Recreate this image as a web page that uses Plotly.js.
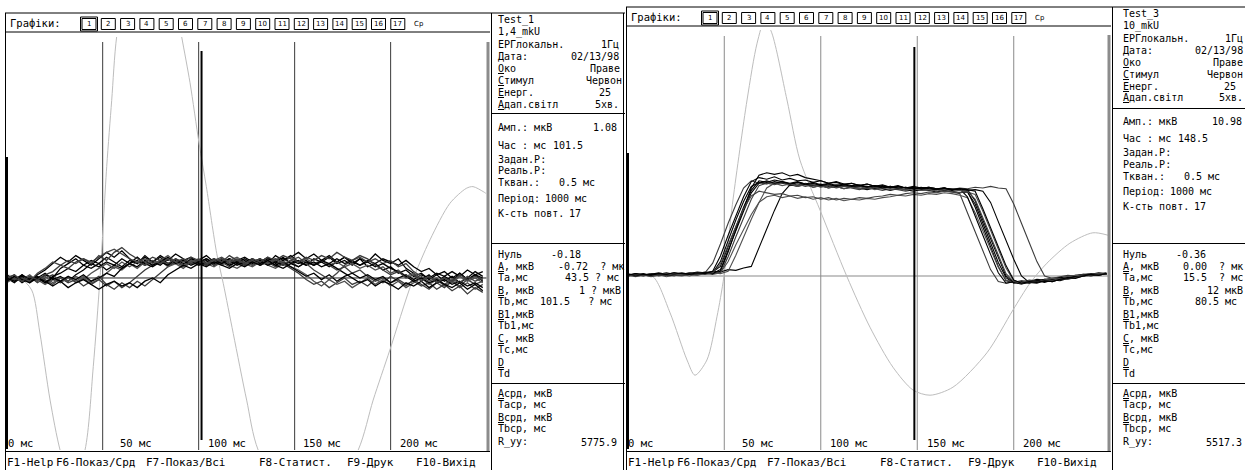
<!DOCTYPE html>
<html><head><meta charset="utf-8">
<script src="https://cdn.plot.ly/plotly-3.0.1.min.js"></script>
<style>html,body{margin:0;padding:0;background:#fff;}#chart{width:1245px;height:470px;}</style>
</head><body><div id="chart"></div>
<script>
// ---------------- DATA ----------------
const t = [0,4,8,12,16,20,24,28,32,36,40,44,48,52,56,60,64,68,72,76,80,84,88,92,96,100,104,108,112,116,120,124,128,132,136,140,144,148,152,156,160,164,168,172,176,180,184,188,192,196,200,204,208,212,216,220,224,228,232,236,240,244,248];

// Left panel (Test_1, µV) – 12 of the 17 repetitions
const L1 = [-0.2,0.1,-0.3,0.0,-0.2,0.2,0.0,0.6,0.9,1.2, 0.8,1.1,0.9,1.3,1.0,0.7,1.1,0.9,1.4,1.0, 0.8,1.2,0.9,1.1,1.3,0.9,1.1,0.8,1.0,1.2, 0.9,1.1,0.8,1.0,1.3,0.9,1.1,1.4,1.0,0.8, 1.2,1.0,1.3,0.9,1.1,0.8,1.2,1.0,1.5,1.1, 0.9,1.2,0.6,0.3,-0.1,0.2,-0.3,0.1,-0.2,0.3, -0.1,0.2,-0.2];
const L2 = [0.1,-0.2,0.0,-0.3,0.1,-0.1,-0.4,0.0,-0.3,-0.1, -0.5,-0.2,0.1,-0.4,-0.7,-0.3,-0.6,-0.2,-0.5,-0.1, 0.3,0.7,1.0,0.8,1.1,0.9,1.2,0.8,1.0,0.7, 1.1,0.9,1.2,0.8,1.0,0.7,0.9,0.6,0.3,-0.1, -0.4,-0.2,-0.6,-0.3,0.0,-0.4,-0.2,-0.5,-0.1,-0.3, 0.1,-0.2,-0.5,-0.1,-0.4,-0.7,-0.3,-0.6,-0.2,-0.5, -0.1,-0.4,-0.2];
const L3 = [0.0,-0.3,0.1,-0.2,0.2,0.5,0.9,1.3,1.0,1.4, 1.1,0.8,1.2,1.6,1.3,1.7,1.2,0.9,1.3,1.0, 1.4,1.1,1.5,1.2,0.9,1.1,1.4,1.0,1.2,0.9, 1.1,1.3,1.0,1.2,0.9,1.4,1.1,1.3,1.6,1.2, 1.5,1.1,1.4,1.0,1.3,0.9,1.2,0.7,0.9,0.5, 0.7,0.3,0.5,0.1,0.3,-0.1,0.2,-0.2,0.1,-0.3, 0.0,0.4,0.1];
const L4 = [-0.3,0.0,-0.2,0.1,-0.1,-0.4,-0.1,-0.3,0.0,-0.2, 0.1,-0.3,-0.1,0.3,0.7,0.5,0.9,0.6,1.0,0.8, 1.1,0.7,0.9,0.6,1.0,0.8,0.9,0.7,1.0,0.8, 0.6,0.9,0.7,1.0,0.8,0.6,0.9,0.7,0.5,0.2, -0.2,-0.5,-0.1,-0.4,-0.2,-0.6,-0.3,0.0,-0.4,-0.1, -0.5,-0.2,-0.6,-0.3,0.0,-0.4,-0.1,-0.5,-0.2,-0.6, -0.3,-0.7,-0.4];
const L5 = [0.2,-0.1,0.1,-0.2,0.0,0.3,-0.1,0.1,-0.2,0.2, 0.5,0.9,0.7,1.0,0.8,1.2,0.9,1.1,0.8,1.0, 1.3,0.9,1.1,0.8,1.2,1.0,0.8,1.1,0.9,1.2, 1.0,0.8,1.1,0.9,1.2,1.0,0.8,1.1,0.9,1.1, 0.8,1.0,0.7,1.0,1.3,1.0,0.8,1.1,0.9,1.2, 1.0,0.8,1.1,0.7,0.4,0.6,0.2,0.4,0.0,0.3, -0.1,0.2,0.0];
const L6 = [-0.1,0.2,-0.2,0.1,-0.3,0.0,0.2,-0.2,0.1,-0.3, 0.0,-0.4,-0.1,-0.5,-0.2,-0.6,-0.3,0.1,0.5,0.8, 1.1,0.8,1.0,1.2,0.9,1.1,0.8,1.0,1.2,0.9, 1.1,0.8,1.0,1.2,0.9,1.1,0.8,1.0,0.7,1.0, 0.8,1.1,0.8,0.5,0.7,0.3,0.5,0.1,-0.2,0.0, -0.3,-0.1,-0.4,-0.2,-0.5,-0.3,-0.7,-0.4,-0.8,-0.5, -1.0,-0.6,-0.9];
const L7 = [0.1,-0.1,0.2,-0.2,0.0,-0.3,0.1,0.3,0.6,0.4, 0.8,0.6,0.9,0.5,0.8,0.6,0.9,1.3,0.9,0.7, 1.0,0.8,1.2,0.9,1.1,0.8,1.0,1.2,0.9,1.1, 0.8,1.0,1.2,0.9,1.1,0.8,1.0,0.7,0.4,0.1, 0.3,-0.1,0.2,-0.2,0.1,0.3,0.0,0.2,-0.1,0.1, -0.3,0.0,0.2,-0.1,0.2,0.0,0.3,0.1,0.4,0.1, 0.5,0.2,0.4];
const L8 = [-0.2,0.0,-0.1,0.2,-0.2,0.1,-0.3,0.0,-0.2,0.1, -0.1,0.3,0.6,0.9,0.6,1.0,0.7,1.0,1.2,0.9, 1.1,1.4,1.0,0.8,1.1,0.9,1.2,1.0,0.8,1.1, 1.3,1.0,0.8,1.1,0.9,1.2,1.0,1.3,1.0,1.2, 0.9,1.1,0.8,1.0,0.7,0.9,0.6,0.8,0.5,0.7, 0.3,0.5,0.1,0.3,-0.1,0.1,-0.2,0.0,-0.3,0.1, -0.2,0.0,-0.3];
const L9 = [0.0,-0.2,0.2,-0.1,0.1,-0.3,0.0,-0.2,0.1,-0.1, 0.2,-0.2,0.0,0.3,0.1,0.6,0.9,0.7,1.1,0.8, 1.0,1.3,0.9,1.1,0.8,1.0,1.2,0.9,1.1,0.8, 1.0,1.2,0.9,1.1,0.8,1.0,1.3,0.9,1.1,0.8, 1.0,0.7,0.9,0.6,0.3,0.0,-0.3,-0.1,-0.5,-0.2, -0.4,-0.7,-0.3,-0.5,-0.2,-0.6,-0.3,-0.1,-0.4,-0.2, -0.5,-0.3,-0.6];
const L10 = [0.1,-0.1,0.0,-0.2,0.3,0.6,1.0,0.8,1.1,0.9, 1.2,1.0,1.3,1.6,1.8,1.5,1.2,1.0,0.8,1.1, 0.9,1.2,1.0,0.7,1.0,1.2,0.9,1.1,1.3,1.0, 1.2,0.9,1.1,0.8,1.0,1.2,0.9,1.1,1.3,0.9, 0.5,0.2,-0.1,0.3,0.8,1.1,1.3,1.0,1.2,0.9, 1.1,0.7,0.9,0.4,0.1,-0.2,0.0,-0.4,-0.1,-0.3, 0.1,-0.2,0.0];
const L11 = [-0.2,0.1,-0.1,-0.3,0.0,-0.2,-0.5,-0.2,-0.6,-0.3, -0.1,-0.4,-0.7,-0.4,-0.2,-0.5,-0.3,-0.6,-0.2,0.0, -0.3,0.2,0.5,0.8,0.6,0.9,0.7,1.0,0.8,0.6, 0.9,0.7,1.0,0.8,1.1,0.8,0.6,0.9,0.7,1.0, 0.8,1.1,0.9,1.2,0.9,1.1,0.8,1.0,0.7,0.9, 0.6,0.4,0.1,-0.2,0.0,-0.3,-0.1,-0.4,-0.6,-0.3, -0.7,-0.4,-0.8];
const L12 = [0.0,0.2,-0.2,0.1,-0.1,0.2,0.4,0.8,0.6,1.0, 1.2,0.9,1.4,1.1,1.6,1.9,1.5,1.2,1.0,1.3, 1.1,0.9,1.2,1.0,1.3,1.1,0.9,1.2,1.0,1.4, 1.1,0.9,1.2,1.0,1.3,1.1,1.4,1.2,1.0,1.3, 1.1,1.4,1.2,1.6,1.3,1.1,1.4,1.2,0.8,0.5, 0.2,0.4,0.0,0.2,-0.2,0.1,-0.3,0.0,-0.2,0.2, -0.1,0.1,-0.1];

// Left panel reference (grey) curve
const stimL_t = [0,6.9,13.0,17.3,22.6,27.8,34,40.8,45.1,48.6,52.1,54.7,57.3,66,74,82,91.1,95.5,100.2,104.0,109.4,112.8,118.0,125.0,131.0,157,183.1,190.9,199.6,210.9,220.5,230.9,239.4,242.9,248.2,249.6];
const stimL_v = [0.2,0.0,-0.75,-3.44,-7.63,-10.75,-13,-10.75,-5.54,0,6.96,11.1,15.1,21,24,21,15.1,12.2,8.42,5.71,1.54,-0.33,-3.46,-7.63,-10.75,-16,-10.75,-7.63,-4.5,-0.33,2.38,4.67,5.6,5.71,5.4,5.29];

// Right panel (Test_3, µV) – 11 of the 17 repetitions
const R1 = [0.1,0.2,0.0,0.2,0.3,0.1,0.3,0.2,0.4,0.3, 0.5,0.4,1.8,4.5,7.0,9.3,11.2,11.7,11.5,11.8, 11.6,11.4,11.7,11.5,11.3,11.5,11.2,11.4,11.3,11.1, 11.3,11.2,11.0,11.2,11.1,10.9,11.1,10.9,11.0,10.8, 10.9,10.8,10.9,10.7,10.6,8.6,6.1,3.6,1.2,-0.6, -0.8,-0.6,-0.7,-0.4,-0.5,-0.3,-0.2,-0.1,0.1,0.2, 0.1,0.3,0.2];
const R2 = [0.0,0.1,0.2,-0.1,0.1,0.2,0.0,0.3,0.2,0.1, 0.4,1.6,4.0,6.6,8.9,11.0,11.9,11.6,11.8,11.5, 11.7,11.3,11.5,11.2,11.4,11.1,11.3,11.0,11.2,11.0, 10.8,11.0,10.9,10.7,10.9,10.8,10.6,10.8,10.7,10.9, 10.6,10.7,10.5,10.3,7.9,5.5,3.0,0.8,-0.7,-0.9, -0.7,-0.8,-0.5,-0.6,-0.4,-0.3,-0.4,-0.1,0.0,0.1, 0.3,0.2,0.4];
const R3 = [0.2,0.0,0.1,0.3,0.1,0.2,0.4,0.2,0.3,0.5, 0.4,0.6,0.5,0.8,0.7,1.0,1.2,3.6,6.0,8.2, 10.3,11.4,11.2,11.5,11.1,11.3,11.0,11.2,10.9,11.1, 11.0,10.8,11.0,10.9,10.7,10.9,10.8,10.6,10.8,10.7, 10.5,10.7,10.6,10.4,10.5,9.0,6.6,4.1,1.7,-0.2, -0.9,-0.7,-0.9,-0.6,-0.7,-0.4,-0.5,-0.2,-0.1,0.1, 0.0,0.2,0.3];
const R4 = [0.1,-0.1,0.1,0.0,0.2,-0.1,0.1,0.0,0.2,0.1, 0.3,0.2,0.4,1.8,3.9,5.9,7.7,9.2,9.9,10.1, 9.8,10.0,9.7,9.9,9.6,9.8,9.5,9.7,9.4,9.6, 9.5,9.7,9.6,9.8,9.9,10.1,10.0,10.2,10.1,10.3, 10.2,10.4,10.3,10.1,9.8,7.9,5.6,3.3,1.1,-0.5, -0.8,-1.0,-0.7,-0.8,-0.5,-0.6,-0.3,-0.4,-0.1,0.0, 0.2,0.1,0.3];
const R5 = [0.2,0.1,0.3,0.1,0.2,0.4,0.2,0.1,0.3,0.2, 0.4,0.3,0.6,3.0,5.8,8.5,11.0,12.6,12.9,12.7, 12.9,12.5,12.7,12.3,12.1,11.9,11.6,11.8,11.5,11.6, 11.3,11.5,11.2,11.4,11.1,11.3,11.0,11.2,11.0,11.1, 10.9,11.0,10.8,10.9,10.7,10.8,10.6,9.2,6.8,4.4, 2.1,0.0,-0.8,-0.6,-0.8,-0.5,-0.6,-0.3,-0.2,0.0, 0.1,0.3,0.2];
const R6 = [0.0,0.2,0.1,0.3,0.0,0.2,0.3,0.1,0.4,0.2, 0.3,0.5,0.4,2.4,4.9,7.3,9.6,11.3,11.6,11.4, 11.7,11.5,11.3,11.6,11.4,11.2,11.4,11.1,11.3,11.1, 11.2,10.9,11.1,11.0,11.2,11.0,10.8,11.0,10.9,11.1, 10.9,11.0,10.8,11.0,10.9,11.1,11.0,11.2,11.0,10.9, 9.0,6.6,4.2,1.8,0.0,-0.3,-0.1,0.1,0.0,0.2, 0.3,0.1,0.4];
const R7 = [0.1,0.3,0.1,0.2,0.4,0.2,0.1,0.3,0.2,0.4, 0.3,0.5,1.2,3.7,6.3,8.6,10.7,11.9,11.7,12.0, 11.8,11.6,11.8,11.5,11.7,11.4,11.6,11.3,11.5,11.3, 11.4,11.1,11.3,11.1,11.0,11.2,11.0,10.9,11.1,10.9, 10.8,11.0,10.8,10.9,9.9,7.6,5.1,2.7,0.4,-0.9, -0.7,-0.9,-0.6,-0.7,-0.4,-0.5,-0.2,-0.3,0.0,0.1, 0.2,0.4,0.3];
const R8 = [0.3,0.1,0.2,0.0,0.2,0.3,0.1,0.2,0.0,0.3, 0.2,0.4,0.3,0.6,2.6,4.9,7.1,9.2,11.0,11.6, 11.3,11.5,11.2,11.4,11.1,11.3,11.0,11.2,10.9,11.1, 10.9,11.1,10.8,11.0,10.8,10.9,10.7,10.9,10.7,10.8, 10.6,10.8,10.6,10.7,10.5,10.2,8.1,5.7,3.3,1.0, -0.6,-0.8,-0.6,-0.8,-0.5,-0.3,-0.4,-0.1,0.1,0.0, 0.2,0.3,0.2];
const R9 = [0.2,0.0,0.2,0.1,0.3,0.1,0.2,0.4,0.2,0.3, 0.4,0.3,0.8,3.2,5.7,8.1,10.4,11.6,11.9,11.6, 11.8,11.5,11.7,11.4,11.6,11.3,11.5,11.2,11.4,11.2, 11.3,11.1,11.3,11.0,11.2,11.0,11.1,10.9,11.0,11.1, 10.9,11.0,10.8,10.9,10.8,9.4,7.0,4.6,2.2,0.0, -0.8,-1.0,-0.8,-0.9,-0.6,-0.7,-0.4,-0.3,-0.1,0.0, 0.2,0.1,0.3];
const R10 = [0.0,0.2,0.1,0.0,0.2,0.1,0.3,0.1,0.2,0.4, 0.3,0.4,1.5,3.9,6.2,8.4,10.0,10.6,10.4,10.2, 10.3,10.0,10.1,9.8,9.9,9.6,9.8,9.5,9.7,9.6, 9.8,9.7,9.9,10.0,10.2,10.1,10.3,10.4,10.3,10.5, 10.4,10.6,10.5,10.4,10.6,9.6,7.3,4.9,2.5,0.3, -0.7,-0.9,-0.7,-0.8,-0.5,-0.6,-0.3,-0.4,-0.2,0.0, 0.1,0.3,0.2];
const R11 = [0.1,0.3,0.2,0.1,0.3,0.2,0.4,0.3,0.2,0.4, 0.3,0.6,2.5,5.1,7.6,9.9,11.8,12.3,12.1,12.4, 12.0,12.2,11.9,12.0,11.7,11.9,11.6,11.7,11.4,11.6, 11.3,11.5,11.2,11.3,11.1,11.2,11.0,11.1,10.9,11.0, 10.8,11.0,10.7,10.9,10.8,10.6,8.4,6.0,3.6,1.3, -0.5,-0.9,-0.7,-0.8,-0.6,-0.7,-0.4,-0.2,-0.3,0.0, 0.2,0.1,0.3];

// Right panel reference (grey) curve
const stimR_t = [0,6,13.1,21.9,30.7,34.8,41.0,46.2,49.8,54.5,61.8,67.0,71,74.6,82.5,89.2,99.6,113.6,125.5,137.4,147.8,156.6,168.5,186.1,199.6,208.4,217.2,229.1,241.0,248.8];
const stimR_v = [0.1,0.0,-0.1,-4.6,-10.5,-12.4,-10.5,-5.1,-0.1,9.5,22.0,29.1,32,30.4,22.0,14.5,8.25,-0.1,-6.4,-11.4,-14.25,-14.9,-13.9,-9.6,-4.25,-0.9,1.6,4.1,5.4,5.1];

// Texts
const headerLabel = 'Графіки:';
const graphButtons = ['1','2','3','4','5','6','7','8','9','10','11','12','13','14','15','16','17'];
const avgButton = 'Ср';
const xTickVals = [0,50,100,150,200];
const xTickText = ['0 мс','50 мс','100 мс','150 мс','200 мс'];
const markerL = 101.5, markerR = 148.5;
const statusItems = ['F1-Help','F6-Показ/Срд','F7-Показ/Всі','F8-Статист.','F9-Друк','F10-Вихід'];
const infoLabelsL = ['Test_1','1,4_mkU','ЕРГлокальн.','Дата:','<u>О</u>ко','<u>С</u>тимул','<u>Е</u>нерг.','<u>А</u>дап.світл','Амп.: мкВ','Час : мс','Задан.Р:','Реаль.Р:','Ткван.:','Період:','К-сть повт.','Нуль','<u>А</u>, мкВ','Ta,мс','<u>B</u>, мкВ','Tb,мс','<u>B</u>1,мкВ','Tb1,мс','<u>C</u>, мкВ','Tc,мс','<u>D</u>','Td','<u>А</u>срд, мкВ','Tаср, мс','<u>В</u>срд, мкВ','Tbср, мс','R_уу:'];
const infoValuesL = ['','','1Гц','02/13/98','Праве','Червон','25','5хв.','1.08','101.5','','','0.5 мс','1000 мс','17','-0.18','-0.72  ? мк','43.5 ? мс','1 ? мкВ','101.5   ? мс','','','','','','','','','','','5775.9'];
const infoLabelsR = ['Test_3','10_mkU'].concat(infoLabelsL.slice(2));
const infoValuesR = ['','','1Гц','02/13/98','Праве','Червон','25','5хв.','10.98','148.5','','','0.5 мс','1000 мс','17','-0.36','0.00  ? мк','15.5  ? мс','12 мкВ','80.5 мс','','','','','','','','','','','5517.3'];

// ---------------- LAYOUT HELPERS ----------------
const W = 1245, H = 470;
const fx = p => p / W, fy = p => 1 - p / H;
const MONO = 'DejaVu Sans Mono';
const FS = 10;
const shapes = [], ann = [];
const nb = s => s.replace(/ /g, '\u00a0');
function L(x0, y0, x1, y1, c, w) {
  shapes.push({type:'line', xref:'paper', yref:'paper', x0:fx(x0), y0:fy(y0), x1:fx(x1), y1:fy(y1), line:{color:c||'#000', width:w||1}, layer:'above'});
}
function R(x0, y0, x1, y1, c, w) {
  shapes.push({type:'rect', xref:'paper', yref:'paper', x0:fx(x0), y0:fy(y0), x1:fx(x1), y1:fy(y1), line:{color:c||'#000', width:w||1}, fillcolor:'rgba(0,0,0,0)', layer:'above'});
}
function T(x, y, s, o) {
  o = o || {};
  ann.push({xref:'paper', yref:'paper', x:fx(x), y:fy(y), text:nb(s), showarrow:false, align:'left',
    xanchor:o.xa||'left', yanchor:'middle', borderpad:0, font:{family:o.f||MONO, size:o.s||FS, color:o.c||'#000'}});
}

// ---------------- PANELS ----------------
// row centres (px) – rows spread slightly so that neighbouring lines do not collide
const rowY = [20,31.8,45,56.8,68.6,80.4,92.2,104, 128,145,159,170.8,182.6,198,213, 254,266,277.8,290,301.8,314,325.8,338,349.8,362,373.8, 393,404.8,417,428.8,442];
// right edge (px) of each value, left panel; right panel = +625
const valRight = [0,0,620,620,621,623,612,620,618,584,0,0,596,588,582,582,625,620,622,613,0,0,0,0,0,0,0,0,0,0,618];

function panel(o) {
  const dx = o.dx, hy = o.hy;
  // outer frame
  L(dx+5, hy, dx+625, hy);
  L(dx+5.5, hy, dx+5.5, 470);
  L(dx+5, hy+19, dx+490, hy+19);
  L(dx+5, 451.5, dx+490, 451.5);
  L(dx+488, o.plotTop+5, dx+488, 451, '#8c8c8c', 3);
  L(dx+491.5, hy, dx+491.5, 470);
  L(dx+7, o.thickTop, dx+7, 449, '#000', 2);
  // info separators
  L(dx+491, o.sep1, dx+625, o.sep1);
  L(dx+491, 243.5, dx+625, 243.5);
  L(dx+491, 383.5, dx+625, 383.5);
  if (o.rightBorder) L(dx+623.5, hy, dx+623.5, 470);
  // header
  T(dx+9, hy+10, headerLabel, {s:10.5});
  graphButtons.forEach((b, i) => {
    const cx = dx + 89 + i * 19.3;
    R(cx-7, hy+5.5, cx+7, hy+16.5, '#000', 1);
    if (i === 0) R(cx-8.5, hy+4, cx+8.5, hy+18, '#000', 1);
    T(cx, hy+11, b, {xa:'center', s:7, f:'DejaVu Sans'});
  });
  T(dx+413, hy+11, avgButton, {s:7, f:'DejaVu Sans'});
  // x tick labels
  xTickText.forEach((s, i) => T(o.tickX[i], 443, s, {s:10.5}));
  // status bar
  statusItems.forEach((s, i) => T(dx + o.statusX[i], 462.5, s, {s:11}));
  // info panel
  o.labels.forEach((lab, i) => {
    const y = rowY[i] + (i < 8 ? o.sh1 : (i < 15 ? o.sh2 : 0));
    T(o.infoX, y, lab);
    if (o.values[i]) T(Math.min(valRight[i] + o.vdx, 1244), y, o.values[i], {xa:'right'});
  });
}

panel({dx:0, hy:13, plotTop:37, thickTop:157, sep1:113.5, rightBorder:true,
  tickX:[7,119,207,302,399], statusX:[6,55,145,258,346,415],
  infoX:497, vdx:0, labels:infoLabelsL, values:infoValuesL, sh1:0, sh2:0});
panel({dx:621, hy:7, plotTop:30, thickTop:153, sep1:108.5, rightBorder:false,
  tickX:[627,741,829,926,1022], statusX:[6,55,145,258,346,415],
  infoX:1122, vdx:625, labels:infoLabelsR, values:infoValuesR, sh1:-6, sh2:-6.5});

// grid lines, baselines and cursor (data coordinates)
xTickVals.slice(1).forEach(v => {
  shapes.push({type:'line', xref:'x', yref:'paper', x0:v, x1:v, y0:fy(450), y1:fy(42), line:{color:'#3a3a3a', width:1}, layer:'below'});
  shapes.push({type:'line', xref:'x2', yref:'paper', x0:v, x1:v, y0:fy(450), y1:fy(36), line:{color:'#8a8a8a', width:1}, layer:'below'});
});
shapes.push({type:'line', xref:'x', yref:'y', x0:0, x1:250, y0:0, y1:0, line:{color:'#202020', width:1}, layer:'below'});
shapes.push({type:'line', xref:'x2', yref:'y2', x0:0, x1:250, y0:0, y1:0, line:{color:'#8a8a8a', width:1.2}, layer:'below'});
shapes.push({type:'line', xref:'x', yref:'paper', x0:markerL, x1:markerL, y0:fy(440), y1:fy(51), line:{color:'#000', width:2}, layer:'above'});
shapes.push({type:'line', xref:'x2', yref:'paper', x0:markerR, x1:markerR, y0:fy(440), y1:fy(47), line:{color:'#000', width:2}, layer:'above'});

// ---------------- TRACES ----------------
const traces = [];
traces.push({x:stimL_t, y:stimL_v, xaxis:'x', yaxis:'y', mode:'lines', line:{color:'#bdbdbd', width:1, shape:'spline', smoothing:0.8}, hoverinfo:'skip'});
traces.push({x:stimR_t, y:stimR_v, xaxis:'x2', yaxis:'y2', mode:'lines', line:{color:'#bdbdbd', width:1, shape:'spline', smoothing:0.8}, hoverinfo:'skip'});
const greys = ['#000','#3c3c3c','#000','#505050','#000','#3c3c3c','#000','#505050','#000','#444','#000','#3c3c3c'];
[L1,L2,L3,L4,L5,L6,L7,L8,L9,L10,L11,L12].forEach((s, i) => traces.push({x:t, y:s, xaxis:'x', yaxis:'y', mode:'lines', line:{color:greys[i], width:1.3}, hoverinfo:'skip'}));
[R1,R2,R3,R4,R5,R6,R7,R8,R9,R10,R11].forEach((s, i) => traces.push({x:t, y:s, xaxis:'x2', yaxis:'y2', mode:'lines', line:{color:greys[i], width:1.1}, hoverinfo:'skip'}));

const layout = {
  width:W, height:H, margin:{l:0, r:0, t:0, b:0}, paper_bgcolor:'#fff', plot_bgcolor:'rgba(0,0,0,0)', showlegend:false,
  xaxis:{domain:[fx(6), fx(487)], range:[-0.36, 250.2], visible:false, fixedrange:true},
  yaxis:{domain:[fy(450), fy(37)], range:[-10.75, 15.06], visible:false, fixedrange:true},
  xaxis2:{domain:[fx(627), fx(1111)], range:[-0.41, 250.4], visible:false, anchor:'y2', fixedrange:true},
  yaxis2:{domain:[fy(450), fy(30)], range:[-21.75, 30.75], visible:false, anchor:'x2', fixedrange:true},
  shapes:shapes, annotations:ann
};
Plotly.newPlot('chart', traces, layout, {staticPlot:true, displayModeBar:false});
</script>
</body></html>
